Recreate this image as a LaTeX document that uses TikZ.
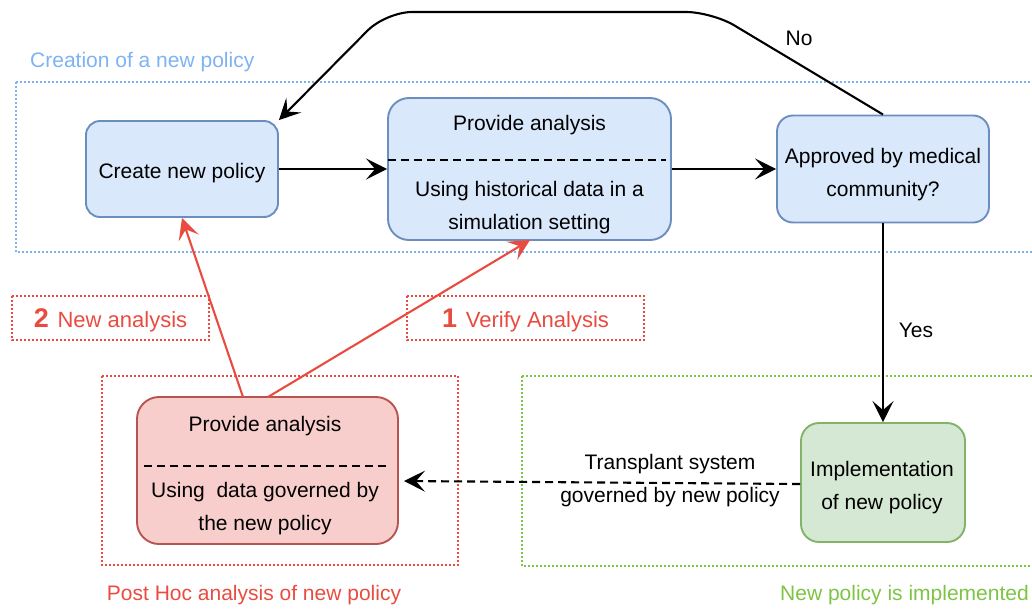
\documentclass[tikz,border=0pt]{standalone}
\usepackage{fontspec}
\setmainfont{Liberation Sans}
\usetikzlibrary{arrows.meta}

\definecolor{bluefill}{HTML}{DAE8FC}
\definecolor{bluedraw}{HTML}{6C8EBF}
\definecolor{greenfill}{HTML}{D5E8D4}
\definecolor{greendraw}{HTML}{82B366}
\definecolor{redfill}{HTML}{F8CECC}
\definecolor{reddraw}{HTML}{B85450}
\definecolor{groupblue}{HTML}{7EB3F2}
\definecolor{groupgreen}{HTML}{7DC443}
\definecolor{groupred}{HTML}{EA4B40}

\tikzset{
  box/.style={draw, line width=1.9pt, inner sep=0pt, rectangle},
  bluebox/.style={box, fill=bluefill, draw=bluedraw},
  greenbox/.style={box, fill=greenfill, draw=greendraw},
  redbox/.style={box, fill=redfill, draw=reddraw},
  txt/.style={font=\fontsize{21}{33}\selectfont, align=center, inner sep=0pt},
  grouplabel/.style={font=\fontsize{21}{25}\selectfont, inner sep=0pt},
  group/.style={line width=2pt, dash pattern=on 1.6pt off 2.4pt},
  tip/.style={-{Stealth[length=21pt,width=21pt,inset=9pt]}},
  flow/.style={tip, line width=2.1pt},
  splitline/.style={line width=1.9pt, dash pattern=on 8pt off 5pt},
}

\begin{document}
\begin{tikzpicture}[x=1pt, y=-1pt]
\useasboundingbox (0,0) rectangle (1032,608);

% group frames
\draw[group, groupblue] (16,82) rectangle (1045,252);
\draw[group, groupgreen] (522,376) rectangle (1045,566);
\draw[group, groupred] (102,376) rectangle (458,565);

\node[grouplabel, text=groupblue, anchor=west] (lblcreation) at (30,62) {Creation of a new policy};
\node[grouplabel, text=groupred] (lblposthoc) at (254,595) {Post Hoc analysis of new policy};
\node[grouplabel, text=groupgreen, anchor=west] (lblimpl) at (780,595) {New policy is implemented};

% process boxes
\node[bluebox, minimum width=192pt, minimum height=96pt, rounded corners=14pt] (create) at (182,169) {};
\node[txt] (createtxt) at (182,173) {Create new policy};

\node[bluebox, minimum width=283pt, minimum height=142pt, rounded corners=21pt] (prov) at (529.5,169) {};
\node[txt] (provtop) at (529.5,125) {Provide analysis};
\node[txt] (provbot) at (529.5,208) {Using historical data in a\\simulation setting};
\draw[splitline] (388,160) -- (666,160);

\node[bluebox, minimum width=212pt, minimum height=107pt, rounded corners=16pt] (appr) at (883,169) {};
\node[txt] (apprtxt) at (883,174.5) {Approved by medical\\community?};

\node[greenbox, minimum width=164pt, minimum height=119pt, rounded corners=18pt] (impl) at (883,482.5) {};
\node[txt] (impltxt) at (882,488) {Implementation\\of new policy};

\node[redbox, minimum width=261pt, minimum height=147pt, rounded corners=22pt] (post) at (267.5,470.5) {};
\node[txt] (posttop) at (265,426) {Provide analysis};
\node[txt] (postbot) at (265,509) {Using\ \ data governed by\\the new policy};
\draw[splitline] (144,466) -- (390,466);

% numbered step labels
\draw[group, groupred] (12,296) rectangle (209,340);
\node[grouplabel, text=groupred, font=\fontsize{22}{26}\selectfont] (step2) at (110.5,320) {\textbf{\fontsize{27}{28}\selectfont 2}\hspace{0.4em}New analysis};
\draw[group, groupred] (407,296) rectangle (644,340);
\node[grouplabel, text=groupred, font=\fontsize{22}{26}\selectfont] (step1) at (525.5,320) {\textbf{\fontsize{27}{28}\selectfont 1}\hspace{0.4em}Verify Analysis};

% connectors
\draw[flow] (create.east) -- (prov.west);
\draw[flow] (prov.east) -- (appr.west);

\coordinate (noright) at (712,12);
\coordinate (noleft) at (386,12);
\draw[flow, rounded corners=26pt] (appr.north) -- (noright) -- (noleft) -- (create.north east);
\node[txt] (nolbl) at (799,38) {No};

\draw[flow] (appr.south) -- (impl.north);
\node[txt] (yeslbl) at (916,330) {Yes};

\coordinate (dashend) at (404,481);
\draw[flow, dash pattern=on 8pt off 5pt] ([yshift=-1.5pt]impl.west) -- (dashend);
\node[txt] (translbl) at (670,481) {Transplant system\\governed by new policy};

\coordinate (p2start) at (243,397);
\coordinate (p1start) at (268,397);
\coordinate (c2end) at (182,218);
\coordinate (c1end) at (530,240);
\draw[flow, groupred] (p2start) -- (c2end);
\draw[flow, groupred] (p1start) -- (c1end);

\end{tikzpicture}
\end{document}
